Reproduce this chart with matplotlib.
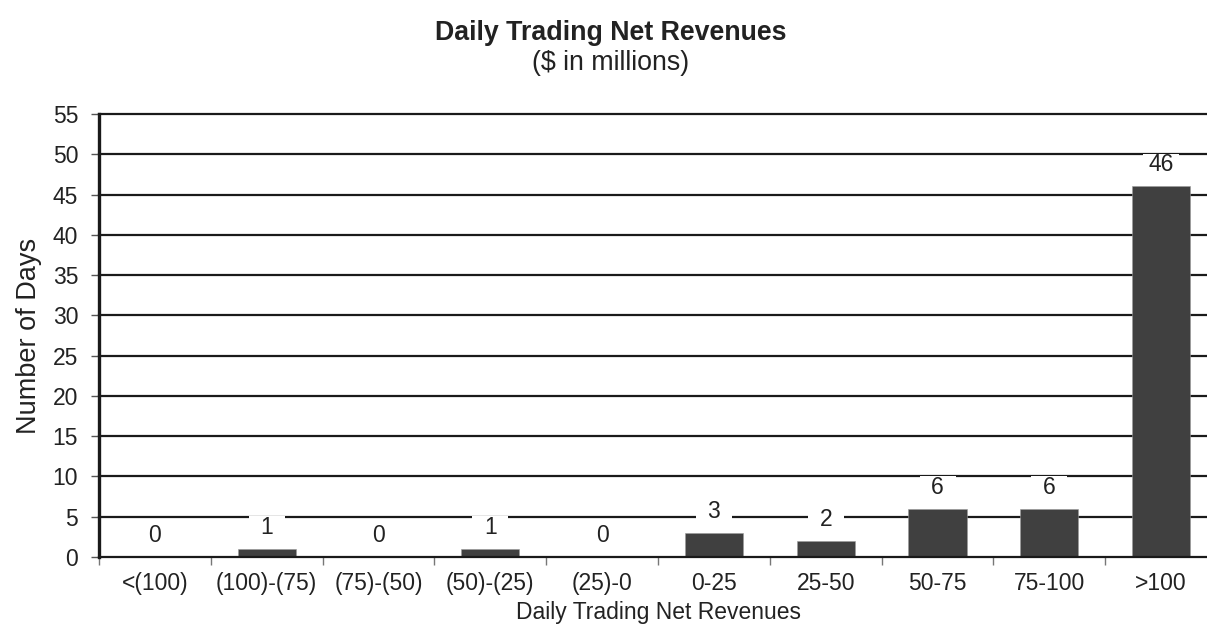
import matplotlib
matplotlib.use("Agg")
import matplotlib.pyplot as plt
from matplotlib.transforms import offset_copy
import numpy as np

categories = ["<(100)", "(100)-(75)", "(75)-(50)", "(50)-(25)", "(25)-0",
              "0-25", "25-50", "50-75", "75-100", ">100"]
days = [0, 1, 0, 1, 0, 3, 2, 6, 6, 46]
yticks = list(range(0, 60, 5))

plt.rcParams['font.family'] = ['Liberation Sans', 'DejaVu Sans']

fig = plt.figure(figsize=(12.07, 6.29), dpi=100)
ax = fig.add_axes([99/1207, 72/629, 1118/1207, 443/629])

x = np.arange(len(categories))
ax.bar(x, days, width=0.52, color='#404040', edgecolor='#9a9a9a', linewidth=0.4, zorder=3)

ax.set_xlim(-0.5, len(categories) - 0.5)
ax.set_ylim(0, 55)
ax.set_yticks(yticks)
ax.set_xticks(x)
ax.set_xticklabels(categories)
ax.set_xticks(np.arange(-0.5, len(categories), 1.0), minor=True)

for y in yticks[1:]:
    ax.axhline(y, color='#1a1a1a', linewidth=1.6, zorder=1, clip_on=False)

for s in ['top', 'right']:
    ax.spines[s].set_visible(False)
ax.spines['left'].set_linewidth(2.4)
ax.spines['left'].set_color('#1a1a1a')
ax.spines['bottom'].set_linewidth(1.6)
ax.spines['bottom'].set_color('#1a1a1a')
ax.spines['bottom'].set_zorder(4)

ax.tick_params(axis='y', direction='out', length=6, width=1.0, color='#555555',
               labelsize=16.5, pad=9, labelcolor='#222222')
ax.tick_params(axis='x', which='major', length=0, labelsize=16.5, pad=11, labelcolor='#222222')
ax.tick_params(axis='x', which='minor', direction='out', length=6, width=1.0, color='#777777')

# value labels with fixed-size white boxes
box = [(-1, -0.6), (1, -0.6), (1, 0.6), (-1, 0.6), (-1, -0.6)]
for xi, v in zip(x, days):
    tr = offset_copy(ax.transData, fig=fig, x=0, y=15.5, units='points')
    ax.plot([xi], [v], marker=box, markersize=26, color='white', markeredgewidth=0,
            transform=tr, zorder=5, clip_on=False)
    ax.text(xi, v, str(v), transform=tr, ha='center', va='center', fontsize=16.5,
            color='#222222', zorder=6)

ax.set_ylabel("Number of Days", fontsize=19.5, color='#222222', labelpad=8)
ax.set_xlabel("Daily Trading Net Revenues", fontsize=16.5, color='#222222', labelpad=4)

fig.text(0.506, 1 - 33/629, "Daily Trading Net Revenues", ha='center', va='center',
         fontsize=19.3, fontweight='bold', color='#222222')
fig.text(0.506, 1 - 63/629, "($ in millions)", ha='center', va='center',
         fontsize=19.3, color='#222222')

fig.savefig("out.png", dpi=100)
